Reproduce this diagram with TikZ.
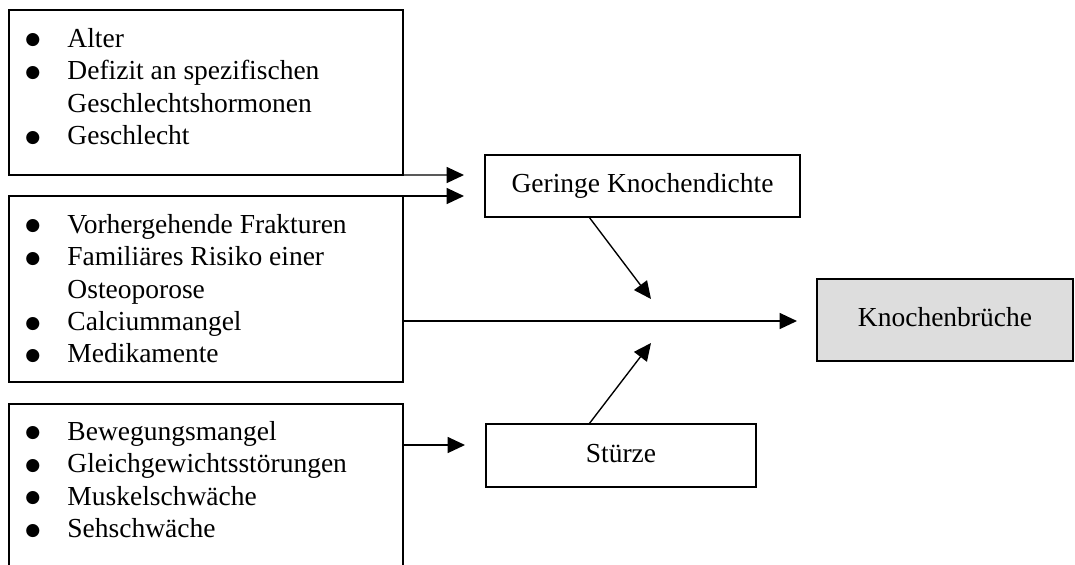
\documentclass[tikz,border=0pt]{standalone}
\usepackage{fontspec}
\setmainfont{Liberation Serif}
\newfontfamily\symfont{DejaVu Sans}
\usetikzlibrary{arrows.meta}
\newlength\pxu
\setlength\pxu{0.43636pt}
\definecolor{boxgray}{HTML}{DDDDDD}
\newcommand\bul{\raisebox{0.9pt}{\symfont\fontsize{7.5}{8}\selectfont ●}}
\begin{document}
\begin{tikzpicture}[x=0.43636pt, y=-0.43636pt,
  every node/.style={font=\fontsize{12}{14.18}\selectfont},
  box/.style={draw, line width=0.65pt, inner sep=0pt, outer sep=0pt, anchor=north west},
  cbox/.style={box, text height=8.5pt, text depth=2.6pt},
  lst/.style={anchor=base west, inner sep=0pt},
  arr/.style={line width=0.6pt, -{Triangle[length=7.6pt,width=7pt]}}]
\clip (0,0) rectangle (1075,564);
% left boxes
\node[box, minimum width=394\pxu, minimum height=165\pxu] (b1) at (9,10) {};
\node[box, minimum width=394\pxu, minimum height=186\pxu] (b2) at (9,196) {};
\node[box, minimum width=394\pxu, minimum height=200\pxu] (b3) at (9,404) {};
% lists
\node[lst] (l1) at (25,47) {\begin{tabular}[t]{@{}c@{\hspace{27\pxu}}l@{}}
\bul & Alter\\
\bul & Defizit an spezifischen\\
 & Geschlechtshormonen\\
\bul & Geschlecht
\end{tabular}};
\node[lst] (l2) at (25,233) {\begin{tabular}[t]{@{}c@{\hspace{27\pxu}}l@{}}
\bul & Vorhergehende Frakturen\\
\bul & Familiäres Risiko einer\\
 & Osteoporose\\
\bul & Calciummangel\\
\bul & Medikamente
\end{tabular}};
\node[lst] (l3) at (25,440) {\begin{tabular}[t]{@{}c@{\hspace{27\pxu}}l@{}}
\bul & Bewegungsmangel\\
\bul & Gleichgewichtsstörungen\\
\bul & Muskelschwäche\\
\bul & Sehschwäche
\end{tabular}};
% right boxes
\node[cbox, minimum width=315\pxu, minimum height=62\pxu] (geringe) at (485,155) {Geringe Knochendichte};
\node[cbox, minimum width=270\pxu, minimum height=63\pxu] (sturze) at (486,424) {Stürze};
\node[cbox, fill=boxgray, minimum width=256\pxu, minimum height=82\pxu] (knochen) at (817,279) {Knochenbrüche};
% arrows
\coordinate (t1) at (464,175);
\coordinate (t2) at (464,196);
\coordinate (t3) at (797,321);
\coordinate (t4) at (465,445);
\coordinate (t5) at (651,299);
\coordinate (t6) at (651,343);
\draw[arr] (b1.south east) -- (t1);
\draw[arr] (b2.north east) -- (t2);
\draw[arr] (b2.east |- t3) -- (t3);
\draw[arr] (b3.east |- t4) -- (t4);
\draw[arr] ([xshift=104\pxu]geringe.south west) -- (t5);
\draw[arr] ([xshift=103\pxu]sturze.north west) -- (t6);
\end{tikzpicture}
\end{document}
